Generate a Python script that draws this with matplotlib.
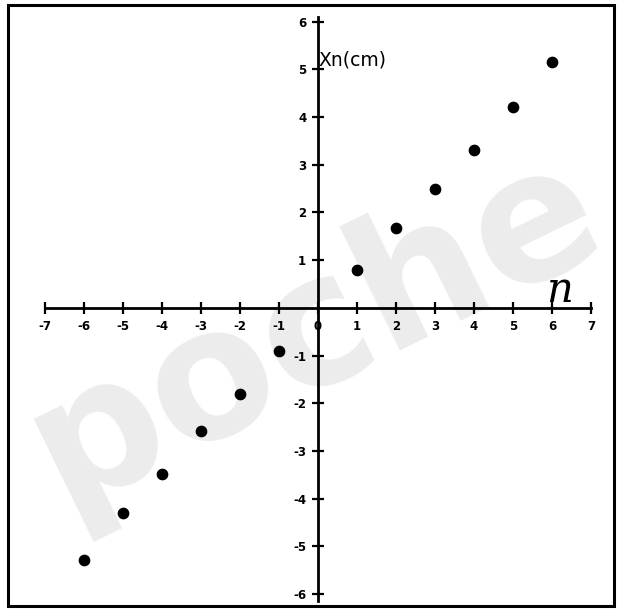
import matplotlib
matplotlib.use("Agg")
import matplotlib.pyplot as plt
from matplotlib.patches import Rectangle

# values
n_vals = [-6, -5, -4, -3, -2, -1, 1, 2, 3, 4, 5, 6]
xn_cm = [-5.28, -4.3, -3.48, -2.58, -1.8, -0.9, 0.8, 1.68, 2.5, 3.32, 4.22, 5.15]
xticks = [-7, -6, -5, -4, -3, -2, -1, 0, 1, 2, 3, 4, 5, 6, 7]
xticklabels = ["-7", "-6", "-5", "-4", "-3", "-2", "-1", "0", "1", "2", "3", "4", "5", "6", "7"]
yticks = [-6, -5, -4, -3, -2, -1, 1, 2, 3, 4, 5, 6]
yticklabels = ["-6", "-5", "-4", "-3", "-2", "-1", "1", "2", "3", "4", "5", "6"]

fig = plt.figure(figsize=(6.29, 6.14), dpi=100)
ax = fig.add_axes([8 / 629, 8 / 614, 606 / 629, 601 / 614])
ax.set_xlim(-7.95, 7.59)
ax.set_ylim(-6.25, 6.35)

# watermark, behind everything
ax.text(0.50, 0.465, "poche", transform=fig.transFigure, fontsize=130,
        fontweight="bold", color="#ececec", rotation=26, ha="center",
        va="center", zorder=0, clip_on=False)

for s in ["top", "right"]:
    ax.spines[s].set_visible(False)
ax.spines["left"].set_position(("data", 0))
ax.spines["bottom"].set_position(("data", 0))
ax.spines["left"].set_bounds(-6.15, 6.1)
ax.spines["bottom"].set_bounds(-7, 7)
ax.spines["left"].set_linewidth(2)
ax.spines["bottom"].set_linewidth(2)
ax.spines["left"].set_zorder(3)
ax.spines["bottom"].set_zorder(3)

ax.set_xticks(xticks)
ax.set_xticklabels(xticklabels, fontsize=8.5, fontweight="bold")
ax.set_yticks(yticks)
ax.set_yticklabels(yticklabels, fontsize=8.5, fontweight="bold")
ax.tick_params(axis="both", direction="inout", length=9, width=1.6, pad=4)

ax.add_patch(Rectangle((0, 0), 1, 1, transform=ax.transAxes, fill=False,
                       lw=2.2, edgecolor="black", clip_on=False, zorder=4))

ax.scatter(n_vals, xn_cm, s=55, color="black", zorder=5)

ax.text(0.0, 5.2, "Xn(cm)", fontsize=13.5, ha="left", va="center", zorder=6)
ax.text(5.85, 0.38, "n", fontsize=30, style="italic", family="DejaVu Serif",
        ha="left", va="center", zorder=6)

fig.savefig("out.png", dpi=100)
